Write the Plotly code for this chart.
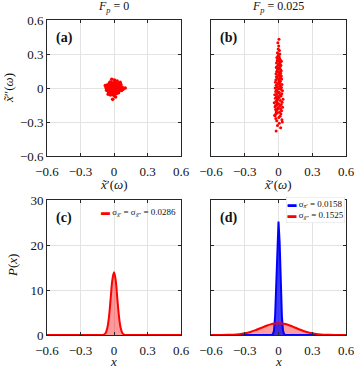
import plotly.graph_objects as go

# ---- data ----
# (a) scatter, F_p = 0
ax_pts = [0.003, -0.012, 0.015, -0.021, 0.024, -0.006, 0.009, -0.031, 0.033, -0.018,
          0.021, -0.027, 0.028, 0.001, -0.004, 0.011, -0.011, 0.038, -0.039, 0.006,
          -0.002, 0.044, -0.043, 0.017, -0.014, 0.035, -0.036, 0.032, -0.033, 0.048,
          -0.049, 0.002, -0.001, 0.026, -0.025, 0.013, -0.008, 0.019, -0.017, 0.007,
          -0.005, 0.052, -0.054, 0.023, -0.026, 0.041, -0.042, 0.045, -0.047, 0.058,
          -0.059, 0.011, -0.012, 0.062, -0.061, 0.028, -0.031, 0.067, -0.066, 0.073,
          -0.071, 0.004, 0.002, 0.081, -0.078, 0.014, -0.020, 0.055, -0.052, 0.030,
          -0.030, 0.016, -0.016, 0.000, 0.004, 0.040, -0.040, 0.025, -0.024, 0.009,
          -0.009, -0.012, 0.100, 0.036, -0.045, 0.050, -0.010, 0.020, -0.035, 0.008]
ay_pts = [0.002, 0.008, -0.006, -0.011, 0.017, 0.025, -0.027, 0.004, -0.002, 0.029,
          0.031, -0.024, -0.022, -0.014, 0.013, 0.011, -0.004, 0.012, -0.008, 0.039,
          -0.038, -0.015, 0.018, 0.045, -0.046, 0.034, 0.031, -0.037, -0.036, 0.004,
          -0.001, 0.049, -0.051, 0.005, 0.015, -0.017, -0.022, 0.021, 0.019, 0.019,
          0.003, 0.022, -0.025, -0.049, 0.047, -0.041, 0.042, 0.039, -0.038, -0.008,
          0.009, 0.058, -0.057, 0.031, 0.027, 0.062, -0.061, -0.021, -0.019, 0.006,
          0.003, 0.071, -0.069, -0.012, 0.021, -0.080, 0.077, 0.050, -0.055, 0.013,
          -0.013, 0.002, -0.001, 0.030, -0.032, 0.025, -0.025, -0.035, 0.036, 0.005,
          0.017, -0.100, 0.000, -0.010, -0.005, -0.020, 0.044, -0.010, 0.052, -0.044]

# (b) scatter, F_p = 0.025
bx_pts = [0.004, -0.006, 0.002, -0.003, 0.008, -0.010, 0.012, -0.004, 0.006, -0.015,
          0.010, -0.008, 0.018, -0.012, 0.003, 0.015, -0.018, 0.007, -0.002, 0.021,
          -0.014, 0.011, -0.020, 0.005, 0.016, -0.009, 0.023, -0.016, 0.001, 0.019,
          -0.022, 0.009, -0.005, 0.025, -0.019, 0.013, -0.011, 0.028, -0.024, 0.004,
          0.017, -0.027, 0.010, -0.007, 0.031, -0.021, 0.014, -0.013, 0.026, -0.030,
          0.002, 0.020, -0.017, 0.035, -0.025, 0.008, -0.004, 0.029, -0.033, 0.012,
          0.022, -0.019, 0.006, -0.028, 0.040, -0.010, 0.016, -0.023, 0.032, -0.038,
          0.001, 0.024, -0.015, 0.011, -0.031, 0.036, -0.006, 0.018, -0.026, 0.027,
          -0.020, 0.009, -0.012, 0.021, -0.034, 0.014, 0.003, -0.024, 0.030, -0.016,
          0.007, -0.009, 0.019, -0.021, 0.012, -0.014, 0.005, -0.018, 0.015, -0.007,
          0.010, -0.011, 0.002, -0.004, 0.008, -0.013, 0.006, -0.003, 0.004, -0.008,
          0.013, -0.017, 0.022, -0.026, 0.017, -0.022, 0.026, -0.030, 0.000, 0.034]
by_pts = [0.43, 0.40, 0.37, 0.345, 0.33, 0.31, 0.30, 0.285, 0.275, 0.27,
          0.26, 0.255, 0.245, 0.24, 0.235, 0.225, 0.22, 0.21, 0.205, 0.20,
          0.19, 0.185, 0.18, 0.17, 0.165, 0.16, 0.15, 0.145, 0.14, 0.13,
          0.125, 0.12, 0.11, 0.105, 0.10, 0.09, 0.085, 0.08, 0.07, 0.065,
          0.06, 0.05, 0.045, 0.04, 0.03, 0.025, 0.02, 0.01, 0.005, 0.00,
          -0.005, -0.01, -0.02, -0.025, -0.03, -0.04, -0.045, -0.05, -0.06, -0.065,
          -0.07, -0.08, -0.085, -0.09, -0.10, -0.105, -0.11, -0.12, -0.125, -0.13,
          -0.14, -0.145, -0.15, -0.16, -0.165, -0.17, -0.18, -0.185, -0.19, -0.20,
          -0.21, -0.215, -0.22, -0.23, -0.24, -0.25, -0.26, -0.27, -0.28, -0.29,
          -0.31, -0.33, -0.35, -0.38, 0.015, -0.015, 0.055, -0.055, 0.095, -0.095,
          0.135, -0.135, 0.175, -0.175, 0.215, -0.195, 0.035, -0.035, 0.075, -0.075,
          0.115, -0.115, 0.155, -0.155, 0.195, -0.225, 0.235, -0.245, 0.295, -0.30]

# (c) pdf, F_p = 0
cx = [-0.6, -0.12, -0.105, -0.09, -0.075, -0.06, -0.045, -0.03, -0.015, 0.0,
      0.015, 0.03, 0.045, 0.06, 0.075, 0.09, 0.105, 0.12, 0.6]
cy = [0.0, 0.0, 0.02, 0.1, 0.45, 1.55, 4.05, 8.05, 12.2, 13.95,
      12.2, 8.05, 4.05, 1.55, 0.45, 0.1, 0.02, 0.0, 0.0]
c_label = "σ<sub><i>x̃</i>′</sub> = σ<sub><i>x̃</i>″</sub> = 0.0286"

# (d) pdfs, F_p = 0.025
dbx = [-0.6, -0.08, -0.06, -0.05, -0.04, -0.03, -0.02, -0.01, 0.0,
       0.01, 0.02, 0.03, 0.04, 0.05, 0.06, 0.08, 0.6]
dby = [0.0, 0.0, 0.02, 0.17, 1.0, 4.2, 11.3, 20.6, 25.2,
       20.6, 11.3, 4.2, 1.0, 0.17, 0.02, 0.0, 0.0]
drx = [-0.6, -0.55, -0.5, -0.45, -0.4, -0.35, -0.3, -0.25, -0.2, -0.15, -0.1, -0.05, 0.0,
       0.05, 0.1, 0.15, 0.2, 0.25, 0.3, 0.35, 0.4, 0.45, 0.5, 0.55, 0.6]
dry = [0.0, 0.0, 0.01, 0.03, 0.08, 0.19, 0.38, 0.68, 1.11, 1.61, 2.11, 2.48, 2.62,
       2.48, 2.11, 1.61, 1.11, 0.68, 0.38, 0.19, 0.08, 0.03, 0.01, 0.0, 0.0]
# red histogram bins (width 0.04)
hist_x = [-0.58, -0.54, -0.50, -0.46, -0.42, -0.38, -0.34, -0.30, -0.26, -0.22,
          -0.18, -0.14, -0.10, -0.06, -0.02, 0.02, 0.06, 0.10, 0.14, 0.18,
          0.22, 0.26, 0.30, 0.34, 0.38, 0.42, 0.46, 0.50, 0.54, 0.58]
hist_y = [0.0, 0.01, 0.02, 0.03, 0.07, 0.13, 0.24, 0.40, 0.58, 0.97,
          1.25, 1.78, 2.05, 2.55, 2.9, 2.7, 2.35, 2.15, 1.65, 1.35,
          0.90, 0.63, 0.36, 0.20, 0.11, 0.05, 0.03, 0.01, 0.0, 0.0]
d_label_blue = "σ<sub><i>x̃</i>′</sub> = 0.0158"
d_label_red = "σ<sub><i>x̃</i>″</sub> = 0.1525"

col_titles = ["<i>F<sub>p</sub></i> = 0", "<i>F<sub>p</sub></i> = 0.025"]
pos_ticks = [-0.6, -0.3, 0, 0.3, 0.6]
pos_text = ["−0.6", "−0.3", "0", "0.3", "0.6"]

FONT = "Liberation Serif, DejaVu Serif, serif"
W, H = 354, 370


def px_x(p):
    return p / W


def px_y(p):
    return 1 - p / H


def label(text, x, y, size=13, xanchor="center", yanchor="middle", **kw):
    return dict(text=text, x=px_x(x), y=px_y(y), xref="paper", yref="paper",
                xanchor=xanchor, yanchor=yanchor, showarrow=False, font=dict(size=size), **kw)


fig = go.Figure()

fig.add_trace(go.Scatter(x=ax_pts, y=ay_pts, mode="markers", xaxis="x", yaxis="y",
                         marker=dict(color="#ff0000", size=3.6, line_width=0), showlegend=False))
fig.add_trace(go.Scatter(x=bx_pts, y=by_pts, mode="markers", xaxis="x2", yaxis="y2",
                         marker=dict(color="#ff0000", size=3, line_width=0), showlegend=False))

fig.add_trace(go.Scatter(x=cx, y=cy, mode="lines", xaxis="x3", yaxis="y3", line_shape="spline",
                         line=dict(color="#ff0000", width=2), fill="tozeroy",
                         fillcolor="rgba(255,0,0,0.4)", showlegend=False))

fig.add_trace(go.Scatter(x=dbx, y=dby, mode="lines", xaxis="x4", yaxis="y4",
                         line=dict(color="#0000ff", width=2), fill="tozeroy",
                         fillcolor="rgba(0,0,255,0.75)", showlegend=False))
fig.add_trace(go.Bar(x=hist_x, y=hist_y, width=0.04, xaxis="x4", yaxis="y4",
                     marker=dict(color="rgba(255,0,0,0.38)", line_width=0), showlegend=False))
fig.add_trace(go.Scatter(x=drx, y=dry, mode="lines", xaxis="x4", yaxis="y4", line_shape="spline",
                         line=dict(color="#ff0000", width=2), showlegend=False))

axis_common = dict(
    showline=True, mirror="ticks", linecolor="#262626", linewidth=0.8,
    ticks="inside", ticklen=3, tickcolor="#262626", tickwidth=0.8,
    showgrid=True, gridcolor="#e3e3e3", gridwidth=1, zeroline=False,
    automargin=False, ticklabeloverflow="allow", tickfont=dict(size=13, color="#111"),
)
xdom_l = [px_x(47), px_x(181)]
xdom_r = [px_x(211), px_x(346)]
ydom_t = [px_y(156), px_y(20)]
ydom_b = [px_y(335), px_y(200)]
ycommon = dict(axis_common, range=[-0.6, 0.6], tickvals=pos_ticks, ticktext=pos_text)
xcommon = dict(ycommon, ticklabelstandoff=3)

fig.update_layout(
    width=W, height=H,
    margin=dict(l=0, r=0, t=0, b=0),
    paper_bgcolor="white", plot_bgcolor="white",
    font=dict(family=FONT, size=12, color="#111"),
    barmode="overlay", bargap=0,
    xaxis=dict(xcommon, domain=xdom_l, anchor="y"),
    yaxis=dict(ycommon, domain=ydom_t, anchor="x"),
    xaxis2=dict(xcommon, domain=xdom_r, anchor="y2"),
    yaxis2=dict(ycommon, domain=ydom_t, anchor="x2", showticklabels=False),
    xaxis3=dict(xcommon, domain=xdom_l, anchor="y3"),
    yaxis3=dict(axis_common, domain=ydom_b, anchor="x3", range=[0, 30], tickvals=[0, 10, 20, 30]),
    xaxis4=dict(xcommon, domain=xdom_r, anchor="y4"),
    yaxis4=dict(axis_common, domain=ydom_b, anchor="x4", range=[0, 30], tickvals=[0, 10, 20, 30],
                showticklabels=False),
)

ann = []
# column titles
for t, cxp in zip(col_titles, [114, 278]):
    ann.append(label(t, cxp, 7, size=12))
# axis titles
for cxp in [114, 278]:
    ann.append(label("<i>x̃</i>′(<i>ω</i>)", cxp, 184))
    ann.append(label("<i>x</i>", cxp, 371, yanchor="bottom"))
ann.append(label("<i>x̃</i>″(<i>ω</i>)", 8, 88, textangle=-90))
ann.append(label("<i>P</i>(<i>x</i>)", 12, 266, textangle=-90))
# panel letters
for lab, (lx, ly) in zip(["(a)", "(b)", "(c)", "(d)"], [(54, 38), (218, 38), (54, 218), (218, 218)]):
    ann.append(label(f"<b>{lab}</b>", lx, ly, size=14, xanchor="left"))
# legends
ann.append(label(f'<span style="color:#ff0000">▬</span> {c_label}', 178, 212, size=9, xanchor="right"))
ann.append(label(f'<span style="color:#0000ff">▬</span> {d_label_blue}<br>'
                 f'<span style="color:#ff0000">▬</span> {d_label_red}',
                 345, 210, size=9, xanchor="right", align="left", bgcolor="white",
                 bordercolor="#dddddd", borderwidth=0.5, borderpad=1))
fig.update_layout(annotations=ann)

fig.write_html("out.html", config={"displayModeBar": False},
               post_script="document.body.style.margin='0px';")
